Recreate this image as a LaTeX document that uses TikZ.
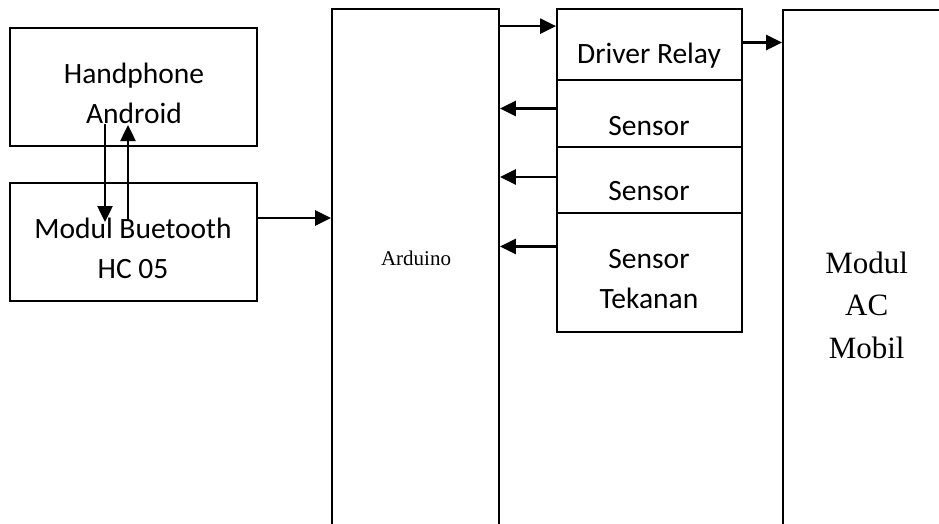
\documentclass[tikz,border=0pt]{standalone}
\usepackage{fontspec}
\setmainfont{Carlito}
\newfontfamily\tnr{Liberation Serif}
\usetikzlibrary{arrows.meta}

\begin{document}
\begin{tikzpicture}[x=1pt, y=-1pt,
  blok/.style={draw, line width=1.8pt, inner sep=0pt},
  arr/.style={-{Triangle[length=16pt,width=15pt]}, line width=2.5pt},
  lbl/.style={font=\fontsize{29.5}{40}\selectfont, align=center, anchor=base},
  tlbl/.style={font=\tnr\fontsize{21}{25}\selectfont, align=center, anchor=base}]
\useasboundingbox (0,0) rectangle (939,523);
\clip (0,0) rectangle (939,523);
% blocks
\node[blok, minimum width=247pt, minimum height=118pt] (phone) at (133.5,87) {};
\node[blok, minimum width=247pt, minimum height=118pt] (bt) at (133.5,242) {};
\node[blok, minimum width=167pt, minimum height=551pt] (ard) at (415.5,284.5) {};
\node[blok, minimum width=185pt, minimum height=71pt] (relay) at (649.5,44.5) {};
\node[blok, minimum width=185pt, minimum height=67pt] (sen1) at (649.5,113.5) {};
\node[blok, minimum width=185pt, minimum height=66pt] (sen2) at (649.5,180) {};
\node[blok, minimum width=185pt, minimum height=119pt] (press) at (649.5,272.5) {};
\node[blok, minimum width=217pt, minimum height=550pt] (ac) at (891.5,285) {};
% texts (base = last line)
\node[lbl] (phoneT) at (134,123) {Handphone\\Android};
\node[lbl] (btT) at (133,278) {Modul Buetooth\\HC 05};
\node[lbl] (relayT) at (649,63) {Driver Relay};
\node[lbl] (sen1T) at (649,135) {Sensor};
\node[lbl] (sen2T) at (649,200) {Sensor};
\node[lbl] (pressT) at (649,308) {Sensor\\Tekanan};
\node[tlbl] (ardT) at (416,265.7) {Arduino};
\node[tlbl, font=\tnr\fontsize{31}{42.5}\selectfont] (acT) at (866.7,358) {Modul\\AC\\Mobil};
% links
\coordinate (dnA) at (105,124);
\coordinate (dnB) at (105,222);
\coordinate (upA) at (128,220);
\coordinate (upB) at (128,125);
\draw[arr] (dnA) -- (dnB);
\draw[arr] (upA) -- (upB);
\draw[arr] ([yshift=24pt]bt.east) -- ([yshift=24pt]bt.east -| ard.west);
\draw[arr] ([yshift=-18pt]ard.north east) -- ([yshift=-18pt]relay.north west);
\draw[arr] ([yshift=2pt]relay.east) -- ([yshift=2pt]relay.east -| ac.west);
\draw[arr] ([yshift=5pt]sen1.west) -- ([yshift=5pt]sen1.west -| ard.east);
\draw[arr] ([yshift=3pt]sen2.west) -- ([yshift=3pt]sen2.west -| ard.east);
\draw[arr] ([yshift=26pt]press.west) -- ([yshift=26pt]press.west -| ard.east);
\end{tikzpicture}
\end{document}
